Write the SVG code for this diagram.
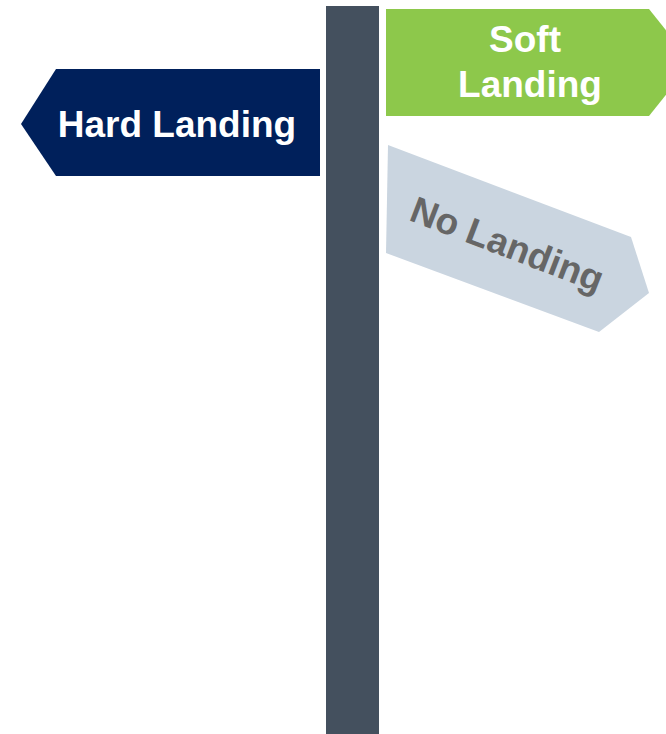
<svg xmlns="http://www.w3.org/2000/svg" width="666" height="734" viewBox="0 0 666 734">
<style>
.lbl{font-family:"Liberation Sans",Arial,sans-serif;font-weight:bold;font-size:37px;text-anchor:middle}
</style>
<rect width="666" height="734" fill="#fff"/>
<g id="pole"><rect x="326" y="6" width="53" height="728" fill="#44505E"/></g>
<g id="hard-landing">
<polygon points="56,69 320,69 320,176 56,176 21,124" fill="#00205B"/>
<text class="lbl" x="177" y="137" fill="#fff">Hard Landing</text>
</g>
<g id="soft-landing">
<polygon points="386,9 649,9 692,62.5 649,116 386,116" fill="#8DC84B"/>
<text class="lbl" x="525" y="52" fill="#fff">Soft</text>
<text class="lbl" x="530" y="97" fill="#fff">Landing</text>
</g>
<g id="no-landing">
<polygon points="388,145 631,237 649,293 599,332 386,253" fill="#CAD5E0"/>
<text class="lbl" x="507" y="257" fill="#666" transform="rotate(21 507 245)">No Landing</text>
</g>
<g id="connectors"></g>
</svg>
